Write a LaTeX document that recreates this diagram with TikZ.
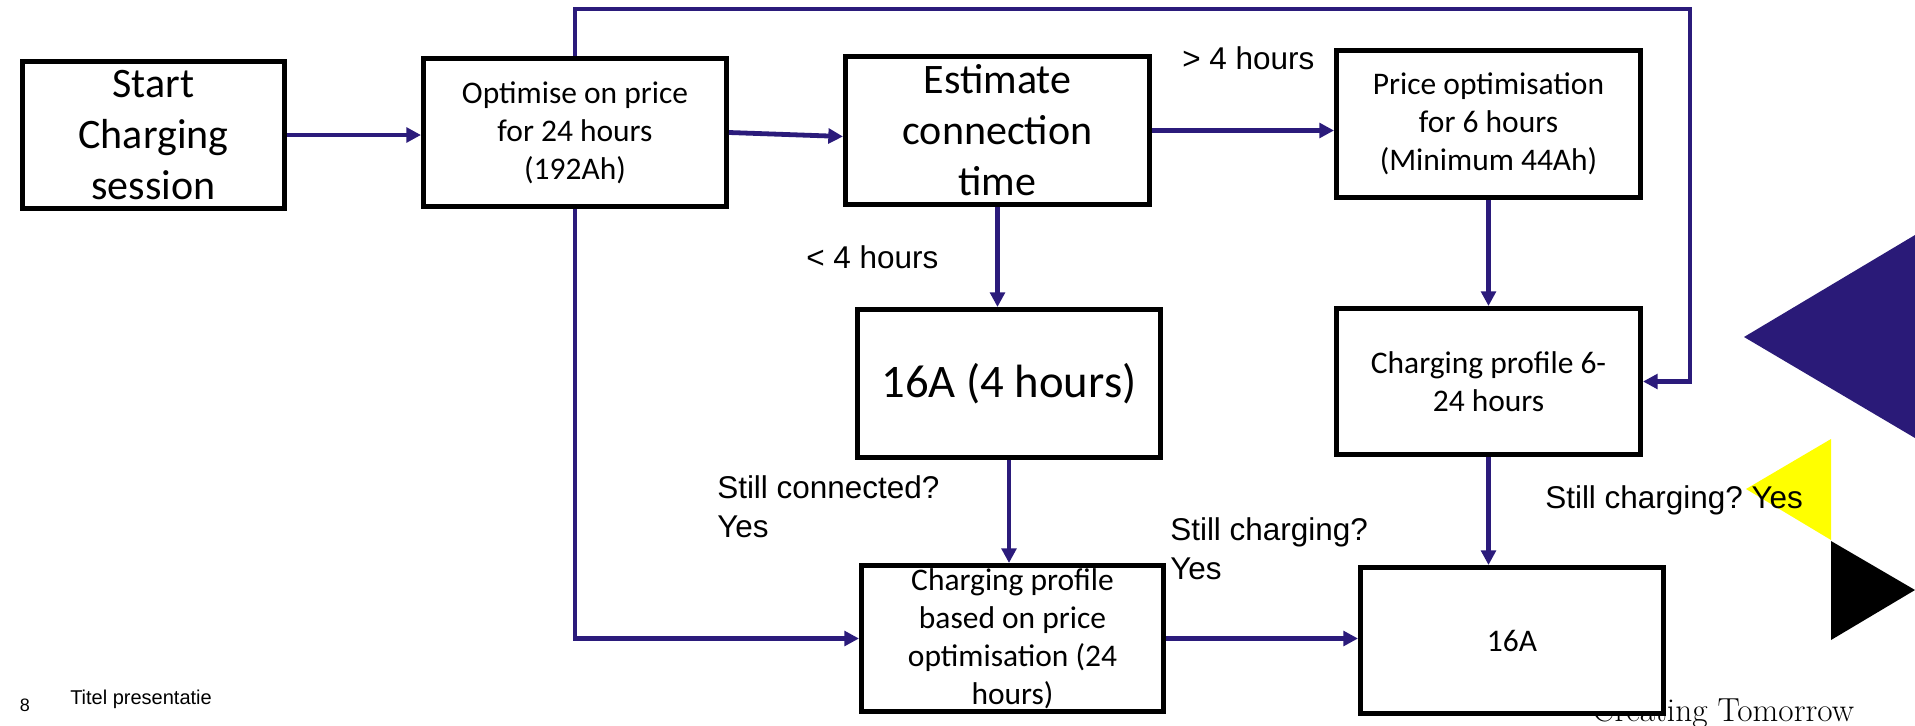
\documentclass[tikz,border=0pt]{standalone}
\usepackage{fontspec}
\newfontfamily\calibri{Carlito}
\newfontfamily\arial{Liberation Sans}
\usetikzlibrary{arrows.meta,calc}
\definecolor{lineblue}{HTML}{2B1B7B}
\definecolor{triblue}{HTML}{2A1A78}
\definecolor{triyellow}{HTML}{FFFF00}
\frenchspacing
\begin{document}
\begin{tikzpicture}[x=0.75pt,y=-0.75pt,
 box/.style={draw=black,line width=3.75pt,fill=white,inner sep=0pt,align=center,font=\calibri\fontsize{23.6}{28.5}\selectfont},
 bigbox/.style={box,font=\calibri\fontsize{31.5}{38.25}\selectfont},
 arr/.style={draw=lineblue,line width=3.6pt,-{Triangle[length=11pt,width=11pt]}},
 lbl/.style={inner sep=0pt,align=left,font=\arial\fontsize{23.6}{29.25}\selectfont}]
\useasboundingbox (0,0) rectangle (1915,725);
\fill[white] (0,0) rectangle (1915,725);
% decorative triangles
\fill[triblue] (1744,337) -- (1915,235) -- (1915,438) -- cycle;
\fill[triyellow] (1831,439) -- (1831,540) -- (1746,489) -- cycle;
\fill[black] (1831,541) -- (1831,640) -- (1915,590) -- cycle;
% footer texts
\node[anchor=base west,inner sep=0pt,font=\fontsize{25}{30}\selectfont] (ct) at (1592,721) {Creating Tomorrow};
\node[anchor=center,inner sep=0pt,font=\arial\fontsize{13.5}{16}\selectfont] (pg) at (25,705) {8};
\node[anchor=west,inner sep=0pt,font=\arial\fontsize{15}{18}\selectfont] (tt) at (70,699) {Titel presentatie};
% boxes
\node[bigbox,minimum width=196.5pt,minimum height=110.25pt] (start) at (153.5,135) {Start\\Charging\\session};
\node[box,minimum width=227.25pt,minimum height=111pt] (opt) at (575,132.5) {Optimise on price\\for 24 hours\\(192Ah)};
\node[bigbox,minimum width=228pt,minimum height=111pt] (est) at (997.5,130.5) {Estimate\\connection\\time};
\node[box,minimum width=228pt,minimum height=110.25pt] (price) at (1488.5,124) {Price optimisation\\for 6 hours\\(Minimum 44Ah)};
\node[box,minimum width=227.25pt,minimum height=111pt,font=\calibri\fontsize{35}{42}\selectfont] (four) at (1009,383.5) {16A (4 hours)};
\node[box,minimum width=228pt,minimum height=109.5pt] (prof6) at (1488.5,381.5) {Charging profile 6-\\24 hours};
\node[box,minimum width=226.5pt,minimum height=109.5pt] (profb) at (1012.5,638.5) {Charging profile\\based on price\\optimisation (24\\hours)};
\node[box,minimum width=227.25pt,minimum height=109.5pt] (a16) at (1512,640.5) {16A};
% labels
\node[lbl,anchor=west] (gt) at (1182,58) {> 4 hours};
\node[lbl,anchor=west] (lt) at (806,257) {< 4 hours};
\node[lbl,anchor=west] (sc1) at (717,506.5) {Still connected?\\Yes};
\node[lbl,anchor=west] (sc2) at (1170,548.5) {Still charging?\\Yes};
\node[lbl,anchor=west] (sc3) at (1545,500) {Still charging? Yes};
% connectors
\coordinate (loopR) at (1690,9);
\draw[arr] (start.east) -- (start.east -| opt.west);
\draw[arr] (opt.east) -- ($(est.west)+(0,6)$);
\draw[arr] (est.east) -- (est.east -| price.west);
\draw[arr] (est.south) -- (est.south |- four.north);
\draw[arr] (four.south) -- (four.south |- profb.north);
\draw[arr] (price.south) -- (price.south |- prof6.north);
\draw[arr] (prof6.south) -- (prof6.south |- a16.north);
\draw[arr] (profb.east) -- (profb.east -| a16.west);
\draw[arr] (opt.north) |- (loopR) |- (prof6.east);
\draw[arr] (opt.south) |- (profb.west);
\end{tikzpicture}
\end{document}
